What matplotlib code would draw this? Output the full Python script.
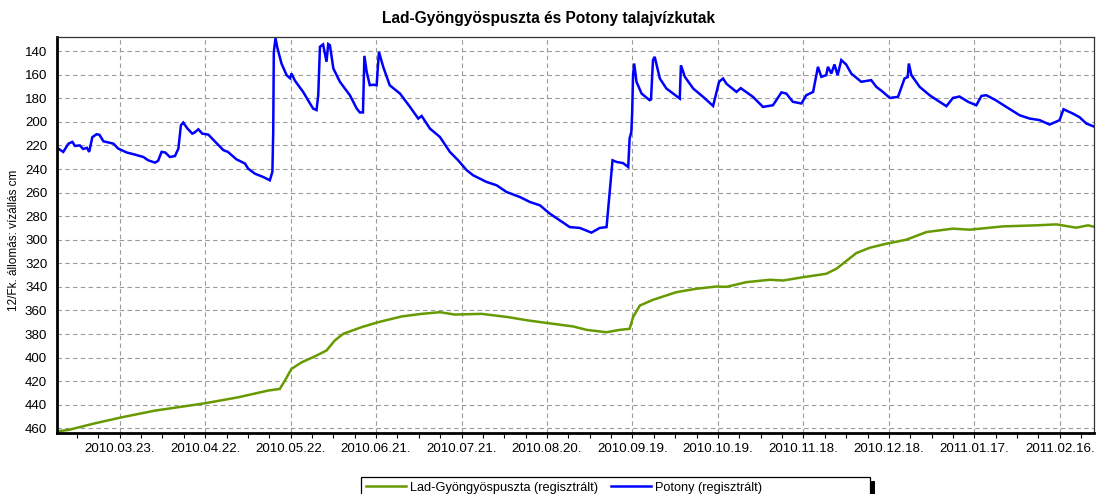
import numpy as np
import matplotlib
matplotlib.use("Agg")
import matplotlib.pyplot as plt
import matplotlib.dates as mdates
from matplotlib.ticker import FixedLocator, FuncFormatter
from matplotlib.patches import Rectangle
from matplotlib.lines import Line2D

plt.rcParams['font.family'] = ['Liberation Sans', 'DejaVu Sans']

# ---------------- data ----------------
start_date = '2010-03-01'
title = 'Lad-Gyöngyöspuszta és Potony talajvízkutak'
ylabel = '12/Fk. állomás: vízállás cm'
series_names = ['Lad-Gyöngyöspuszta (regisztrált)', 'Potony (regisztrált)']
yticks = [140, 160, 180, 200, 220, 240, 260, 280, 300, 320, 340, 360, 380, 400, 420, 440, 460]
first_major_tick = '2010-03-23'

# days since start_date
potony_days = [0, 2.2, 4, 5.4, 6.3, 8, 9.2, 10.5, 11.3, 12.4, 13.9, 14.9, 16.3, 19.8, 21.5,
               24.5, 27.4, 30.3, 32, 34.4, 35.5, 36.7, 38, 39.6, 41.4, 42.6, 43.5, 44.3, 45.8,
               47.5, 48.3, 49.6, 51, 53.1, 55.4, 58.4, 60, 63, 66, 67.1, 69.5, 72.4, 74.7, 75.6,
               75.9, 76.1, 76.7, 77.4, 78.8, 80.6, 81.8, 82.3, 83.5, 86.4, 88.8, 89.9, 91.1,
               91.7, 92.3, 93.4, 94.6, 95.2, 95.8, 97, 99.3, 102.8, 105.2, 106.3, 107.4, 107.9,
               108.7, 109.8, 111, 112.2, 113, 114.5, 116.8, 120.4, 123.9, 126.8, 128, 130.9,
               134.4, 137.9, 140.8, 143.8, 146.1, 150.8, 154.3, 157.8, 162.5, 166, 169.5, 173,
               176.5, 180, 183.5, 187.6, 190.5, 192.9, 194, 195, 196.4, 198.7, 200.5, 201,
               201.6, 201.9, 202.2, 202.6, 203.4, 205.2, 208, 208.5, 209.2, 209.8, 211.6,
               213.9, 218.6, 219, 220.4, 223.3, 226.8, 230.3, 232.4, 233.8, 235, 238.5, 240,
               244.3, 247.8, 251.3, 254.3, 256, 258.3, 261.3, 263, 265.4, 267.1, 268.3, 270,
               270.6, 271.8, 272.9, 274, 275.3, 277, 278.8, 282.3, 285.8, 287.6, 289.9, 292.3,
               295.2, 297.5, 298.6, 299, 299.9, 302.8, 306.3, 309.8, 312.2, 314.5, 316.8,
               319.8, 322.7, 324.5, 326.2, 329.5, 333.2, 337.9, 341.4, 344.9, 348.4, 351.9,
               353.3, 356.6, 358.9, 361.3, 364]
potony_values = [222, 225.5, 218.5, 217, 220.4, 220, 223, 222, 225.5, 213, 210.5, 211, 216.5,
                 218.5, 222.7, 226, 227.8, 229.8, 232.6, 234.6, 233, 225.5, 226, 229.8, 229,
                 222.7, 202.9, 200.6, 205.7, 210, 209, 206.3, 210, 210.8, 216.5, 224, 225.5,
                 231.8, 235.4, 239.7, 244, 246.8, 249.6, 242.5, 208.6, 140.6, 129, 137.7,
                 150.5, 160.4, 163, 159, 165, 174.6, 184.4, 188.7, 190, 177.4, 136.3, 134.3,
                 149, 134, 135, 154.7, 166, 177.4, 188.7, 192, 192, 144, 157.6, 168.9, 168.5,
                 169, 140.6, 153.3, 169, 176, 187.3, 197.2, 195, 205.7, 212.8, 225.5, 232.6,
                 241, 245.4, 251, 253.8, 259.5, 263.8, 268, 270.8, 277.9, 283.6, 289.3, 290,
                 294, 290, 289.3, 259.5, 232.6, 234, 235, 238.3, 214, 208.6, 191.5, 160.4,
                 150.5, 166, 176, 181.6, 181, 147.6, 144.8, 163.2, 171.7, 180.2, 152, 161.8,
                 171.7, 178.8, 186.5, 166, 163.2, 167.7, 174.6, 171.4, 178.8, 187.3, 185.9,
                 175, 176, 183, 184.4, 177.4, 174.6, 153.3, 161.8, 160.4, 153.3, 159, 151.3,
                 160.4, 147.6, 151.3, 159, 166, 164.6, 170.3, 174.6, 179.7, 178.8, 163.2, 162,
                 150.5, 160.4, 170.3, 177.4, 183, 186.7, 179.7, 178.5, 183, 185.9, 178, 177.4,
                 181.6, 187.3, 194.4, 197.2, 198.5, 202.3, 198.6, 189.3, 193, 196, 201.4, 204]

lad_days = [0, 4, 13.3, 22.7, 34.4, 51.9, 63.6, 74.1, 78.2, 80, 82.3, 85.9, 90.5, 94.6, 97.5,
            100.5, 106.9, 112.7, 121, 128, 134.4, 139.6, 149, 158.4, 165.4, 172.4, 181.2,
            185.9, 192.9, 197.5, 201, 202.2, 204.6, 209.2, 217.4, 224.4, 231.5, 235, 242,
            250.2, 254.9, 261.9, 270, 273.6, 280.6, 285.3, 291.1, 298.1, 305.2, 314.5, 320.4,
            332, 343.7, 350.8, 357.8, 361.9, 364]
lad_values = [462.6, 461.4, 455.8, 450.7, 445, 438.8, 433.7, 428, 426.6, 419.5, 409.6, 404,
              399, 394, 385.5, 379.8, 374.2, 370, 365.1, 362.9, 361.5, 363.5, 362.9, 365.7,
              368.5, 370.8, 373.6, 376.5, 378.5, 376.5, 375.6, 365.7, 355.8, 351, 344.5,
              341.6, 339.7, 340, 336, 334, 334.6, 331.8, 328.9, 324.6, 311.3, 306.8, 303.4,
              300, 293.5, 290.6, 291.5, 288.7, 287.8, 287, 289.8, 287.8, 289]

# ---------------- figure ----------------
W, H = 1097, 494
fig = plt.figure(figsize=(W / 100, H / 100), dpi=100)
ax = fig.add_axes([57 / W, 1 - 433 / H, (1094 - 57) / W, (433 - 37) / H])

base = mdates.date2num(np.datetime64(start_date))
lad_x = base + np.array(lad_days)
pot_x = base + np.array(potony_days)

green = '#669a00'
blue = '#0000ff'
ax.plot(lad_x, lad_values, color=green, lw=1.8, solid_joinstyle='miter')
ax.plot(pot_x, potony_values, color=blue, lw=1.8, solid_joinstyle='miter')

ax.set_xlim(base, base + 364)
ax.set_ylim(464, 128)

ax.set_yticks(yticks)
first = mdates.date2num(np.datetime64(first_major_tick))
majors = first + 30 * np.arange(-1, 13)
minors = first + 7.5 * np.arange(-4, 50)
ax.xaxis.set_major_locator(FixedLocator(majors))
ax.xaxis.set_minor_locator(FixedLocator(minors))
ax.xaxis.set_major_formatter(FuncFormatter(lambda v, p: mdates.num2date(v).strftime('%Y.%m.%d.')))

ax.grid(True, which='major', color='#9a9a9a', lw=0.8, linestyle=(0, (4, 3)))
ax.tick_params(axis='x', which='both', direction='out', length=3.5, width=0.8,
               labelsize=9.6, pad=4, colors='black')
ax.tick_params(axis='y', length=0, labelsize=9.6, pad=7)

for s in ['left', 'bottom']:
    ax.spines[s].set_linewidth(2.0)
    ax.spines[s].set_color('black')
for s in ['top', 'right']:
    ax.spines[s].set_linewidth(0.9)
    ax.spines[s].set_color('#333333')

fig.text(0.5, 1 - 18 / H, title, ha='center', va='center', fontsize=11.2, fontweight='bold')
fig.text(14 / W, 1 - 240 / H, ylabel, rotation=90, ha='center', va='center', fontsize=8.5)

# legend box with shadow
lx0, lx1, ly0 = 361, 870, 477
shadow = Rectangle(((lx0 + 5) / W, -0.1), (lx1 - lx0) / W, (H - ly0 - 4) / H + 0.1,
                   transform=fig.transFigure, facecolor='black', edgecolor='none', zorder=1)
box = Rectangle((lx0 / W, -0.1), (lx1 - lx0) / W, (H - ly0) / H + 0.1,
                transform=fig.transFigure, facecolor='white', edgecolor='black',
                lw=0.9, zorder=2)
fig.patches.extend([shadow, box])
handles = [Line2D([], [], color=green, lw=1.8), Line2D([], [], color=blue, lw=1.8)]
leg = fig.legend(handles, series_names, loc='upper left',
                 bbox_to_anchor=(363 / W, 1 - 479 / H), ncol=2, frameon=False,
                 fontsize=9.2, handlelength=3.2, handletextpad=0.25, columnspacing=1.0,
                 borderpad=0.2, borderaxespad=0)
leg.set_zorder(3)

fig.savefig('out.png', dpi=100)
